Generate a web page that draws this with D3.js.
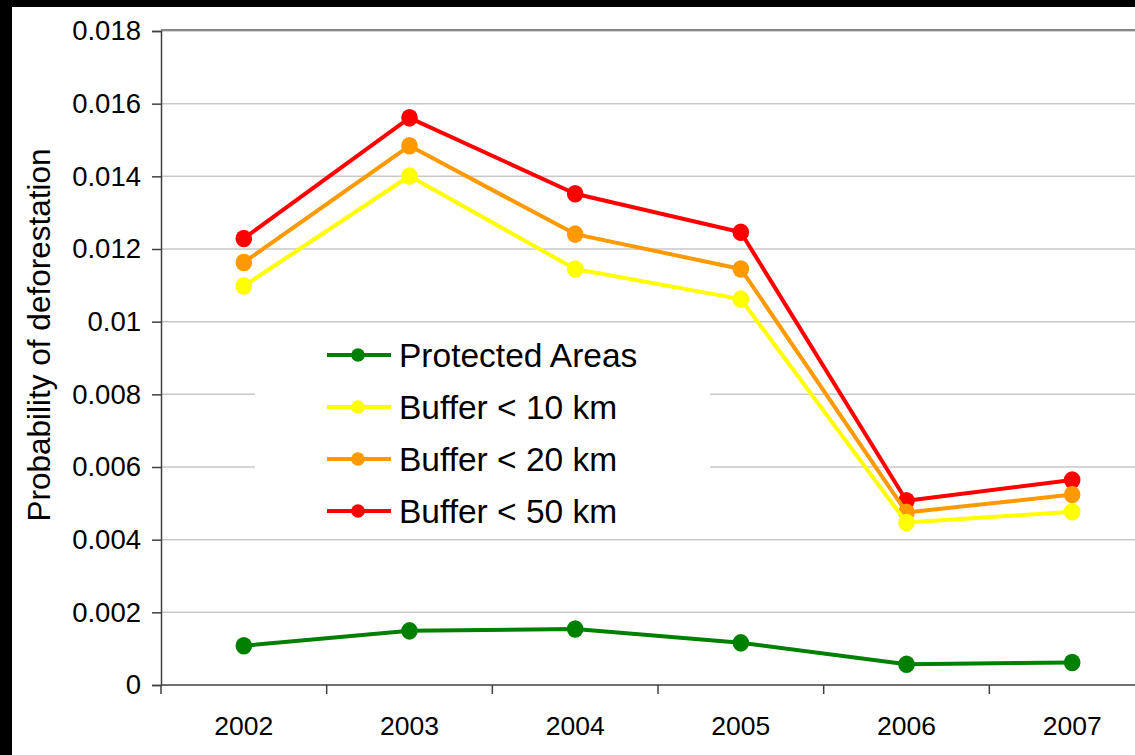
<!DOCTYPE html>
<html>
<head>
<meta charset="utf-8">
<script src="https://cdn.jsdelivr.net/npm/d3@7"></script>
<style>
  html, body { margin: 0; padding: 0; background: #000; }
  svg { display: block; }
  text { font-family: "Liberation Sans", Arial, sans-serif; fill: #000; }
</style>
</head>
<body>
<svg id="chart" width="1135" height="755"></svg>
<script>
// Deforestation probability by year, protected areas vs. surrounding buffers
const years = ["2002", "2003", "2004", "2005", "2006", "2007"];
const protectedAreas = [0.00108, 0.00149, 0.00154, 0.00116, 0.00057, 0.00062];
const buffer10 = [0.01098, 0.01401, 0.01145, 0.01062, 0.00447, 0.00477];
const buffer20 = [0.01163, 0.01484, 0.01241, 0.01145, 0.00475, 0.00524];
const buffer50 = [0.01229, 0.01561, 0.01352, 0.01246, 0.00507, 0.00564];
const yTicks = [0, 0.002, 0.004, 0.006, 0.008, 0.01, 0.012, 0.014, 0.016, 0.018];
const seriesNames = ["Protected Areas", "Buffer < 10 km", "Buffer < 20 km", "Buffer < 50 km"];
const seriesColors = ["#008000", "#ffff00", "#ff9900", "#ff0000"];

const series = [
  { name: seriesNames[0], color: seriesColors[0], values: protectedAreas },
  { name: seriesNames[1], color: seriesColors[1], values: buffer10 },
  { name: seriesNames[2], color: seriesColors[2], values: buffer20 },
  { name: seriesNames[3], color: seriesColors[3], values: buffer50 }
];

const svg = d3.select("#chart");

// white sheet with a dark frame along top and left
svg.append("rect").attr("x", 12).attr("y", 7).attr("width", 1135 - 12).attr("height", 755 - 7).attr("fill", "#fff");

const plot = { left: 161, right: 1155, top: 31, bottom: 685 };

const x = d3.scaleBand().domain(years).range([plot.left, plot.right]).paddingInner(0).paddingOuter(0);
const y = d3.scaleLinear().domain([0, 0.018]).range([plot.bottom, plot.top]);

// horizontal gridlines
svg.append("g").selectAll("line").data(yTicks.filter(d => d > 0)).join("line")
  .attr("x1", plot.left).attr("x2", plot.right)
  .attr("y1", d => y(d)).attr("y2", d => y(d))
  .attr("stroke", "#c8c8c8").attr("stroke-width", 1.5);

// plot-area border (top / right)
svg.append("path")
  .attr("d", `M${plot.left},${plot.top - 1}H${plot.right}V${plot.bottom}`)
  .attr("fill", "none").attr("stroke", "#888").attr("stroke-width", 2);

// y axis
const yAxis = d3.axisLeft(y).tickValues(yTicks).tickSize(9).tickPadding(11)
  .tickFormat(d => d === 0 ? "0" : String(+d.toFixed(3)));
const gy = svg.append("g").attr("transform", `translate(${plot.left},0)`).call(yAxis);
gy.select(".domain").attr("stroke", "#404040").attr("stroke-width", 1.5);
gy.selectAll(".tick line").attr("stroke", "#404040").attr("stroke-width", 1.5);
gy.selectAll(".tick text").attr("font-size", 27.5).attr("fill", "#000")
  .attr("font-family", "'Liberation Sans', Arial, sans-serif");

// x axis with ticks at category boundaries
const gx = svg.append("g").attr("transform", `translate(0,${plot.bottom})`);
gx.append("line").attr("x1", plot.left).attr("x2", plot.right)
  .attr("stroke", "#404040").attr("stroke-width", 1.5);
const boundaries = years.map(d => x(d)).concat([x(years[years.length - 1]) + x.bandwidth()]);
gx.selectAll("line.tk").data(boundaries).join("line").attr("class", "tk")
  .attr("x1", d => d).attr("x2", d => d).attr("y1", 0).attr("y2", 9)
  .attr("stroke", "#404040").attr("stroke-width", 1.5);
gx.selectAll("text").data(years).join("text")
  .attr("x", d => x(d) + x.bandwidth() / 2).attr("y", 50)
  .attr("text-anchor", "middle").attr("font-size", 26.5).text(d => d);

// y axis title
svg.append("text")
  .attr("transform", "translate(50,335) rotate(-90)")
  .attr("text-anchor", "middle").attr("font-size", 31.5)
  .text("Probability of deforestation");

// series lines and markers
const cx = d => x(d) + x.bandwidth() / 2;
const line = d3.line().x((v, i) => cx(years[i])).y(v => y(v));
const drawOrder = [3, 2, 1, 0];
drawOrder.forEach(k => {
  const s = series[k];
  svg.append("path").attr("d", line(s.values))
    .attr("fill", "none").attr("stroke", s.color).attr("stroke-width", 4)
    .attr("stroke-linejoin", "round");
  svg.append("g").selectAll("ellipse").data(s.values).join("ellipse")
    .attr("cx", (v, i) => cx(years[i])).attr("cy", v => y(v))
    .attr("rx", 8.3).attr("ry", 8.8).attr("fill", s.color);
});

// legend
const legend = svg.append("g");
legend.append("rect").attr("x", 255).attr("y", 330).attr("width", 455).attr("height", 200).attr("fill", "#fff");
const rows = legend.selectAll("g.row").data(series).join("g").attr("class", "row")
  .attr("transform", (d, i) => `translate(0,${355 + i * 52})`);
rows.append("line").attr("x1", 327).attr("x2", 391).attr("y1", 0).attr("y2", 0)
  .attr("stroke", d => d.color).attr("stroke-width", 4);
rows.append("circle").attr("cx", 358).attr("cy", 0).attr("r", 6.8).attr("fill", d => d.color);
rows.append("text").attr("x", 399).attr("y", 12).attr("font-size", 33.5).text(d => d.name);
</script>
</body>
</html>
